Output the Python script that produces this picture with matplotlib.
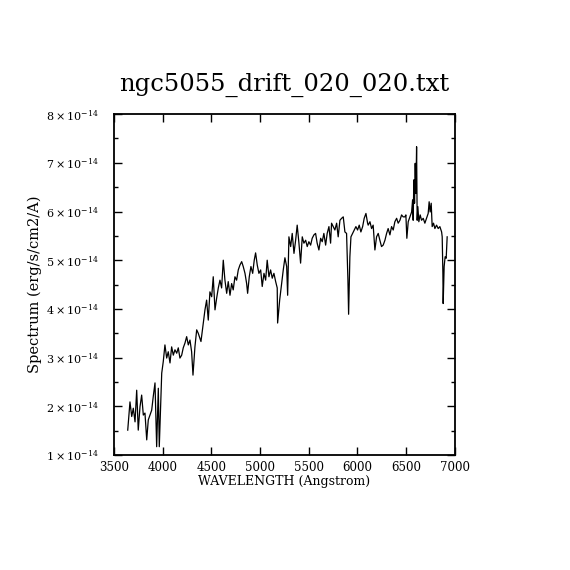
import matplotlib
matplotlib.use("Agg")
import matplotlib.pyplot as plt
from matplotlib.ticker import MultipleLocator, FuncFormatter

# wavelength (Angstrom) and flux (units of 1e-14 erg/s/cm2/A)
wave = [3641, 3664, 3682, 3698, 3716, 3733, 3749, 3767, 3784, 3801,
        3818, 3836, 3852, 3870, 3887, 3903, 3921, 3938, 3955, 3965,
        3982, 3990, 4006, 4023, 4041, 4057, 4075, 4092, 4109, 4126,
        4144, 4160, 4177, 4195, 4211, 4229, 4246, 4263, 4280, 4297,
        4311, 4331, 4349, 4365, 4393,
        4434, 4451, 4468, 4485, 4503, 4519, 4537, 4554, 4571, 4588,
        4605, 4622, 4639, 4657, 4673, 4691, 4708, 4724, 4742, 4759,
        4776, 4793, 4811, 4827, 4845, 4862, 4872, 4889, 4906, 4924,
        4940, 4954, 4971, 4988, 5006, 5022, 5040, 5057, 5073, 5091,
        5108, 5125, 5142, 5160, 5176, 5180, 5201, 5221, 5238,
        5255, 5273, 5283, 5296, 5314, 5330, 5348, 5365, 5381, 5399,
        5416, 5433, 5450, 5468, 5484, 5501, 5519, 5535, 5553, 5570,
        5586, 5604, 5622, 5638, 5655, 5673, 5689, 5707, 5724, 5734,
        5751, 5768, 5786, 5802, 5820, 5837, 5854, 5871, 5888, 5902,
        5909, 5922, 5933, 5950, 5966, 5984, 6001, 6018, 6035, 6053,
        6069, 6087, 6104, 6110, 6128, 6145, 6161, 6179, 6196, 6213,
        6230, 6247, 6264, 6282, 6299, 6315, 6333, 6350, 6367, 6384,
        6402, 6418, 6436, 6453, 6469, 6487, 6497, 6507, 6521, 6538,
        6556, 6566, 6572, 6579, 6586, 6593, 6600, 6607, 6613, 6620,
        6630, 6644, 6658, 6675, 6692, 6709, 6726, 6736, 6746, 6757,
        6767, 6781, 6795, 6812, 6829, 6846, 6864, 6870, 6877, 6880,
        6890, 6900, 6911, 6921]

flux = [1.51, 2.09, 1.79, 1.96, 1.68, 2.33, 1.51, 1.99, 2.23, 1.82,
        1.86, 1.31, 1.72, 1.82, 1.92, 2.20, 2.48, 1.17, 2.37, 1.17,
        2.20, 2.68, 2.92, 3.26, 2.99, 3.12, 2.89, 3.22, 3.05, 3.16,
        3.09, 3.20, 2.99, 3.05, 3.20, 3.30, 3.43, 3.26, 3.36, 3.12,
        2.64, 3.22, 3.57, 3.50, 3.33,
        3.98, 4.18, 3.77, 4.35, 4.25, 4.66, 3.98, 4.22, 4.43, 4.59,
        4.43, 5.00, 4.59, 4.32, 4.56, 4.28, 4.52, 4.39, 4.66, 4.59,
        4.80, 4.90, 4.97, 4.87, 4.73, 4.52, 4.32, 4.66, 4.87, 4.73,
        5.00, 5.15, 4.90, 4.73, 4.80, 4.46, 4.73, 4.59, 5.00, 4.66,
        4.80, 4.63, 4.73, 4.56, 4.43, 3.71, 4.18, 4.52, 4.80,
        5.05, 4.87, 4.28, 5.48, 5.28, 5.55, 5.14, 5.41, 5.72, 5.35,
        4.94, 5.48, 5.35, 5.41, 5.28, 5.38, 5.31, 5.45, 5.52, 5.55,
        5.35, 5.21, 5.45, 5.38, 5.55, 5.31, 5.55, 5.69, 5.35, 5.76,
        5.69, 5.62, 5.76, 5.48, 5.82, 5.86, 5.89, 5.58, 5.55, 4.59,
        3.89, 5.07, 5.48, 5.55, 5.62, 5.69, 5.62, 5.72, 5.58, 5.69,
        5.86, 5.96, 5.76, 5.72, 5.79, 5.65, 5.72, 5.21, 5.48, 5.55,
        5.41, 5.28, 5.31, 5.41, 5.55, 5.65, 5.52, 5.69, 5.62, 5.79,
        5.86, 5.76, 5.82, 5.93, 5.89, 5.89, 5.93, 5.45, 5.79, 5.89,
        5.99, 6.24, 5.82, 6.65, 6.17, 6.99, 6.37, 7.33, 5.82, 6.10,
        5.79, 5.93, 5.82, 5.86, 5.76, 5.86, 5.96, 6.20, 5.99, 6.17,
        5.69, 5.76, 5.65, 5.72, 5.65, 5.69, 5.58, 5.48, 4.73, 4.11,
        4.87, 5.07, 5.04, 5.48]

title = "ngc5055_drift_020_020.txt"

plt.rcParams['font.family'] = 'DejaVu Serif'
plt.rcParams['mathtext.fontset'] = 'dejavuserif'

fig = plt.figure(figsize=(5.7, 5.7), dpi=100)
ax = fig.add_axes([0.2, 0.2018, 0.598, 0.598])

ax.plot(wave, [f * 1e-14 for f in flux], color='black', lw=0.9)

ax.set_xlim(3500, 7000)
ax.set_ylim(1e-14, 8e-14)
ax.xaxis.set_major_locator(MultipleLocator(500))
ax.yaxis.set_major_locator(MultipleLocator(1e-14))
ax.yaxis.set_minor_locator(MultipleLocator(0.5e-14))
ax.yaxis.set_major_formatter(FuncFormatter(
    lambda v, p: r'$%d\times10^{-14}$' % round(v / 1e-14)))

ax.tick_params(which='both', direction='in', top=True, right=True, width=1.0)
ax.tick_params(which='major', length=6)
ax.tick_params(which='minor', length=3)
ax.tick_params(axis='x', labelsize=8.5, pad=4)
ax.tick_params(axis='y', labelsize=8, pad=11)
for s in ax.spines.values():
    s.set_linewidth(1.3)

ax.set_title(title, fontsize=17.5, pad=17)
ax.set_xlabel("WAVELENGTH (Angstrom)", fontsize=9)
ax.xaxis.set_label_coords(0.5, -0.06)
ax.set_ylabel("Spectrum (erg/s/cm2/A)", fontsize=10.5)
ax.yaxis.set_label_coords(-0.212, 0.5)

fig.savefig("out.png", dpi=100)
